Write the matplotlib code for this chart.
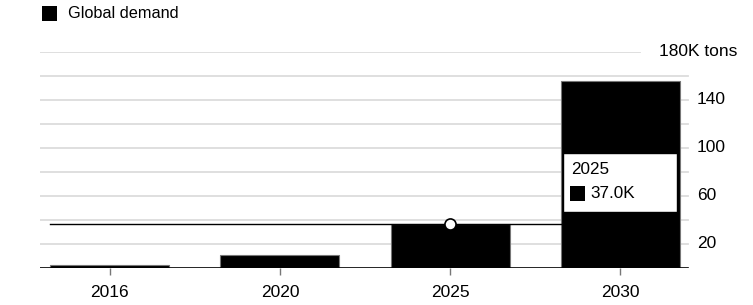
import matplotlib
matplotlib.use("Agg")
import matplotlib.pyplot as plt
from matplotlib.patches import Rectangle
from matplotlib.transforms import blended_transform_factory

plt.rcParams['font.family'] = ['Liberation Sans', 'DejaVu Sans']

years = ["2016", "2020", "2025", "2030"]
demand = [2.8, 11.0, 37.0, 156.0]
grid_values = [20, 40, 60, 80, 100, 120, 140, 160, 180]
label_values = [20, 60, 100, 140]
top_label = "180K tons"
series_name = "Global demand"
hover_index = 2

W, H = 753, 305
fig = plt.figure(figsize=(W / 100, H / 100), dpi=100)
L, R, B, T = 40, 690, 268, 52
ax = fig.add_axes([L / W, 1 - B / H, (R - L) / W, (B - T) / H])
ax.set_xlim(-0.41, 3.41)
ax.set_ylim(0, 180)
for s in ax.spines.values():
    s.set_visible(False)

x = list(range(len(years)))
for g in grid_values:
    xmax = 0.923 if g == 180 else 0.997
    ax.axhline(g, xmin=0, xmax=xmax, color='#dcdcdc', lw=1.3, zorder=0)

ax.bar(x, demand, width=0.7, color='black', edgecolor='#777777', linewidth=0.8, zorder=2)
ax.axhline(0, color='black', lw=1.2, zorder=3, xmax=0.997)

ax.set_yticks([])
ax.set_xticks(x)
ax.set_xticklabels(years, fontsize=12.5)
ax.tick_params(axis='x', length=5, color='#777777', width=1, pad=7)

tr = blended_transform_factory(fig.transFigure, ax.transData)
for v in label_values:
    ax.text(697 / W, v, str(v), transform=tr, fontsize=12.5, va='center', ha='left')
ax.text(737 / W, 180, top_label, transform=tr, fontsize=12.5, va='center', ha='right')

# legend
fig.patches.append(Rectangle((42 / W, 1 - 21 / H), 15 / W, 15 / H, transform=fig.transFigure,
                             facecolor='black', edgecolor='none'))
fig.text(68 / W, 1 - 14 / H, series_name, fontsize=11.7, va='center', ha='left')

# hover crosshair and tooltip
hv = demand[hover_index]
ax.plot([-0.35, 2.65], [hv, hv], color='black', lw=1, zorder=4)
ax.plot([hover_index], [hv], marker='o', ms=8, mfc='white', mec='black', mew=1.2, zorder=5, clip_on=False)

fig.patches.append(Rectangle((563 / W, 1 - 212 / H), 114 / W, 59 / H, transform=fig.transFigure,
                             facecolor='white', edgecolor='black', lw=1, zorder=10))
fig.text(571 / W, 1 - 170 / H, years[hover_index], fontsize=12.3, va='center', ha='left', zorder=11)
fig.patches.append(Rectangle((570 / W, 1 - 201 / H), 15 / W, 15 / H, transform=fig.transFigure,
                             facecolor='black', edgecolor='none', zorder=11))
fig.text(590 / W, 1 - 193 / H, f"{hv:.1f}K", fontsize=12.3, va='center', ha='left', zorder=11)

fig.savefig("out.png", dpi=100)
